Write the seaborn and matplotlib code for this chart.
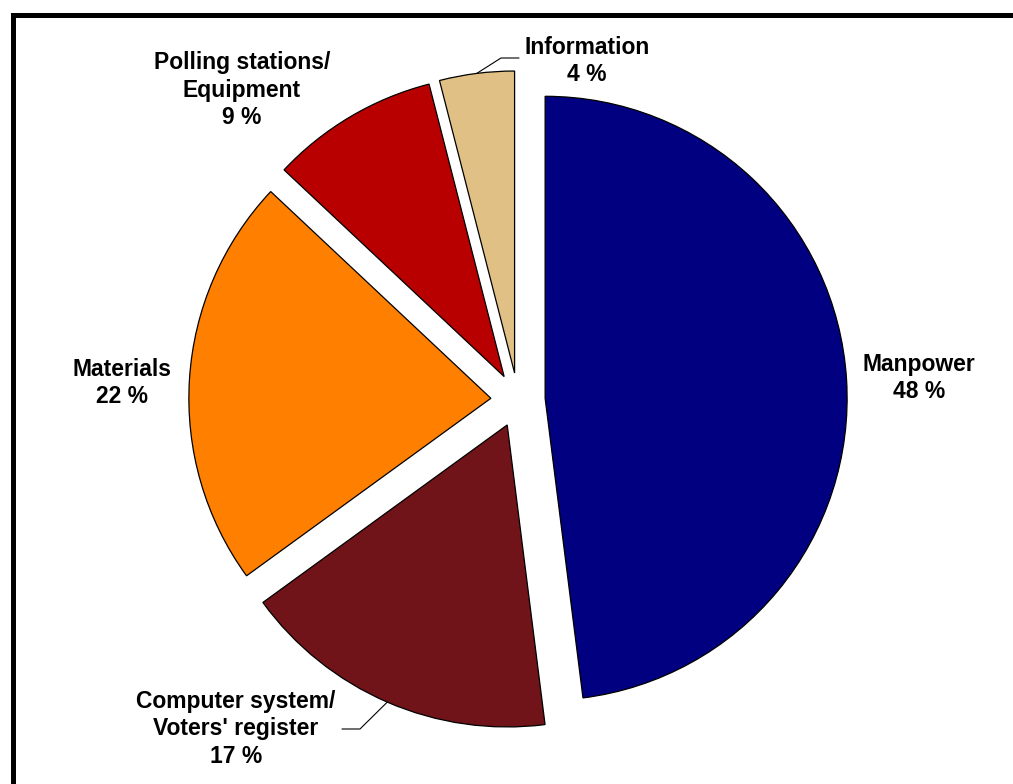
import numpy as np
import matplotlib
matplotlib.use("Agg")
import matplotlib.pyplot as plt
import seaborn as sns
from matplotlib.patches import Rectangle

# --- data ---
categories = ["Manpower", "Computer system/\nVoters' register", "Materials",
              "Polling stations/\nEquipment", "Information"]
shares = [48, 17, 22, 9, 4]
colors = ["#000080", "#701419", "#FF7F00", "#B80000", "#E0C084"]

# label layout (pixel coords, y up) and leader elbows
label_pos = [(919, 406), (236, 55), (122, 401), (242, 694), (587, 723)]
leaders = {1: [(360, 55), (342, 55)], 4: [(501, 726), (519, 726)]}

sns.set_theme(style="white")
plt.rcParams["font.family"] = ["Liberation Sans", "DejaVu Sans"]

W, H = 1013, 784
fig = plt.figure(figsize=(W / 100, H / 100), dpi=100)
ax = fig.add_axes([0, 0, 1, 1])

cx, cy, R = 518, 384, 302
# matplotlib's explode is in data units, so scale by the radius
explode = [0.09 * R] * len(shares)
wedges, _ = ax.pie(shares, colors=colors, startangle=90, counterclock=False,
                   explode=explode, center=(cx, cy), radius=R, frame=True,
                   wedgeprops=dict(edgecolor="black", linewidth=0.9))
ax.set_xlim(0, W)
ax.set_ylim(0, H)
ax.set_aspect("equal")
ax.axis("off")

for i, (w, cat, val) in enumerate(zip(wedges, categories, shares)):
    x, y = label_pos[i]
    ax.text(x, y, f"{cat}\n{val} %", ha="center", va="center",
            multialignment="center", fontsize=16.5, fontweight="bold",
            color="black", linespacing=1.25)
    if i in leaders:
        mid = np.deg2rad((w.theta1 + w.theta2) / 2)
        wx, wy = w.center
        sx = wx + w.r * np.cos(mid)
        sy = wy + w.r * np.sin(mid)
        pts = [(sx, sy)] + leaders[i]
        ax.plot([p[0] for p in pts], [p[1] for p in pts], color="black", lw=0.8)

# outer frame
fig.patches.append(Rectangle((12.5 / W, -0.1), 1.2, (H - 15) / H + 0.1,
                             transform=fig.transFigure, fill=False,
                             edgecolor="black", linewidth=3.6))

fig.savefig("out.png", dpi=100, facecolor="white")
